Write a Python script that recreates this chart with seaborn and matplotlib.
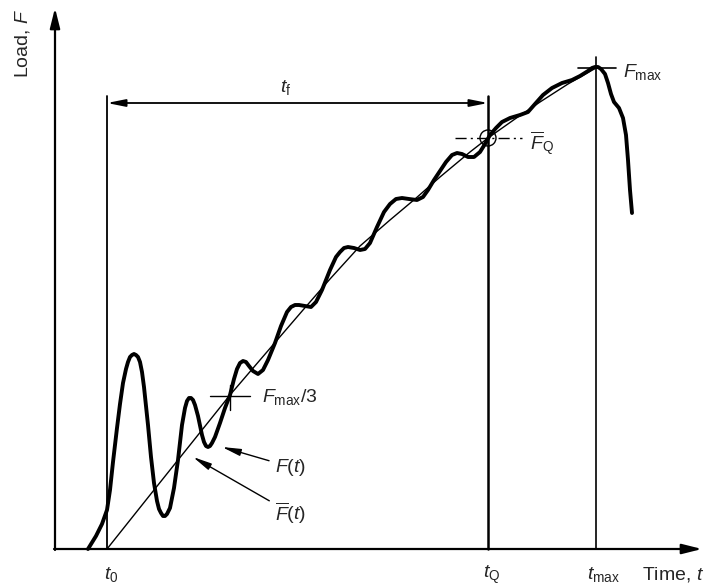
import numpy as np
import pandas as pd
import matplotlib
matplotlib.use("Agg")
import matplotlib.pyplot as plt
import seaborn as sns
from matplotlib.patches import Circle

# ---------------- data (time in px-like units, load in px-like units) -------------
t_curve = [88, 96, 102, 107, 110, 113, 117, 120, 123, 126, 128, 130, 132, 134, 136, 138,
           140, 142, 144, 146, 148, 151, 154, 157, 159, 161, 163, 165, 167, 170, 174, 178,
           182, 185, 187, 189, 191, 193, 195, 198, 202, 204, 206, 208, 210, 212, 215, 220,
           225, 230, 234, 237, 240, 243, 246, 249, 253, 258, 263, 268, 275, 281, 287, 291,
           295, 299, 305, 311, 316, 322, 330, 336, 340, 344, 348, 354, 360, 365, 370, 377,
           384, 390, 396, 402, 409, 417, 423, 428, 434, 440, 446, 452, 457, 462, 468, 474,
           480, 485, 490, 496, 502, 510, 520, 528, 535, 543, 552, 562, 572, 580, 588, 592,
           595, 598, 601, 605, 608, 611, 614, 619, 623, 626, 628, 630, 632]
F_curve = [0, 13, 25, 39, 59, 87, 121, 145, 166, 180, 187, 192, 194, 195, 194, 192,
           187, 177, 162, 143, 124, 92, 66, 48, 40, 36, 33, 33, 35, 41, 61, 89,
           124, 141, 148, 151, 151, 149, 144, 133, 114, 107, 103, 102, 103, 106, 112, 126,
           141, 154, 170, 180, 186, 188, 187, 183, 178, 175, 179, 189, 206, 223, 237, 242,
           244, 244, 243, 242, 247, 259, 279, 292, 297, 301, 302, 301, 299, 300, 306, 322,
           337, 345, 350, 351, 350, 349, 352, 359, 369, 378, 387, 394, 396, 395, 392, 392,
           397, 405, 414, 421, 427, 431, 434, 437, 445, 454, 461, 466, 469, 473, 478, 481,
           482, 482, 480, 475, 466, 455, 447, 441, 431, 414, 389, 359, 336]

t_mean = [107, 150, 190, 230, 260, 303, 330, 360, 390, 415, 440, 470, 488, 515, 540, 568, 596]
F_mean = [0, 54, 104, 154, 189, 239, 270, 303, 329, 350, 372, 397, 411, 430, 447, 465, 481]

t0, tQ, tmax = 107, 488, 596
F_max, F_Q, F_max3 = 481, 411, 153
t_third = 230

tick_labels = [r"$t_\mathrm{0}$", r"$t_\mathrm{Q}$", r"$t_\mathrm{max}$"]

# ---------------- style -------------
sns.set_theme(style="white")
plt.rcParams["font.family"] = ["Liberation Sans", "DejaVu Sans"]
plt.rcParams["mathtext.fontset"] = "custom"
plt.rcParams["mathtext.rm"] = "Liberation Sans"
plt.rcParams["mathtext.it"] = "Liberation Sans:italic"
plt.rcParams["mathtext.bf"] = "Liberation Sans:bold"

fig = plt.figure(figsize=(7.04, 5.86), dpi=100)
ax = fig.add_axes([0, 0, 1, 1])
ax.set_xlim(0, 704)
ax.set_ylim(-37, 549)
ax.axis("off")

K = "#000000"
fs = 14

df_curve = pd.DataFrame({"t": t_curve, "F": F_curve})
df_mean = pd.DataFrame({"t": t_mean, "F": F_mean})
sns.lineplot(data=df_curve, x="t", y="F", sort=False, estimator=None, ax=ax,
             color=K, lw=2.8, solid_capstyle="round", solid_joinstyle="round")
sns.lineplot(data=df_mean, x="t", y="F", sort=False, estimator=None, ax=ax,
             color=K, lw=1.0)

# axes with arrows
ax.annotate("", xy=(55, 541), xytext=(55, -1), xycoords="data",
            arrowprops=dict(arrowstyle="-|>,head_length=1.0,head_width=0.25", color=K, lw=1.6,
                            shrinkA=0, shrinkB=0))
ax.annotate("", xy=(702, 0), xytext=(54, 0),
            arrowprops=dict(arrowstyle="-|>,head_length=1.0,head_width=0.25", color=K, lw=1.6,
                            shrinkA=0, shrinkB=0))

# vertical reference lines
ax.plot([t0, t0], [0, 453], color=K, lw=1.3)
ax.plot([tQ, tQ], [0, 453], color=K, lw=1.8)
ax.plot([tmax, tmax], [0, 492], color=K, lw=1.2)

# t_f double arrow
ax.annotate("", xy=(tQ, 446), xytext=(t0, 446),
            arrowprops=dict(arrowstyle="<|-|>,head_length=0.9,head_width=0.18", color=K, lw=1.3,
                            shrinkA=0, shrinkB=0))
ax.text((t0 + tQ) / 2 - 12, 452, r"$t_\mathrm{f}$", fontsize=fs, ha="center", va="bottom")

# Fmax crosshair
ax.plot([578, 616], [F_max, F_max], color=K, lw=1.2)
ax.text(623, F_max - 4, r"$F_\mathrm{max}$", fontsize=fs, ha="left", va="center")

# FQ
ax.plot([455, 522], [F_Q, F_Q], color=K, lw=1.0, ls=(0, (8, 3, 1.5, 3)))
ax.add_patch(Circle((tQ, F_Q), 8, fill=False, ec=K, lw=1.0))
ax.text(530, F_Q - 6, r"$\overline{F}_\mathrm{Q}$", fontsize=fs, ha="left", va="center")

# Fmax/3 crosshair
ax.plot([210, 250], [F_max3, F_max3], color=K, lw=1.0)
ax.plot([t_third, t_third], [139, 164], color=K, lw=1.0)
ax.text(262, F_max3 - 1, r"$F_\mathrm{max}/3$", fontsize=fs, ha="left", va="center")

# F(t) and mean F(t) pointers
ax.annotate(r"$F(t)$", xy=(222, 102), xytext=(275, 82), fontsize=fs, ha="left", va="center",
            arrowprops=dict(arrowstyle="-|>,head_length=0.8,head_width=0.15", color=K, lw=1.0,
                            shrinkA=2, shrinkB=0))
ax.annotate(r"$\overline{F}(t)$", xy=(193, 92), xytext=(275, 36), fontsize=fs, ha="left",
            va="center",
            arrowprops=dict(arrowstyle="-|>,head_length=0.8,head_width=0.15", color=K, lw=1.0,
                            shrinkA=2, shrinkB=0))

# tick labels
for tv, lab, dx in zip([t0, tQ, tmax], tick_labels, [4, 4, 8]):
    ax.text(tv + dx, -26, lab, fontsize=fs, ha="center", va="center")
ax.text(704, -26, r"Time, $t$", fontsize=fs, ha="right", va="center")
ax.text(22, 506, r"Load, $F$", fontsize=fs, ha="center", va="center", rotation=90)

fig.savefig("out.png", dpi=100)
